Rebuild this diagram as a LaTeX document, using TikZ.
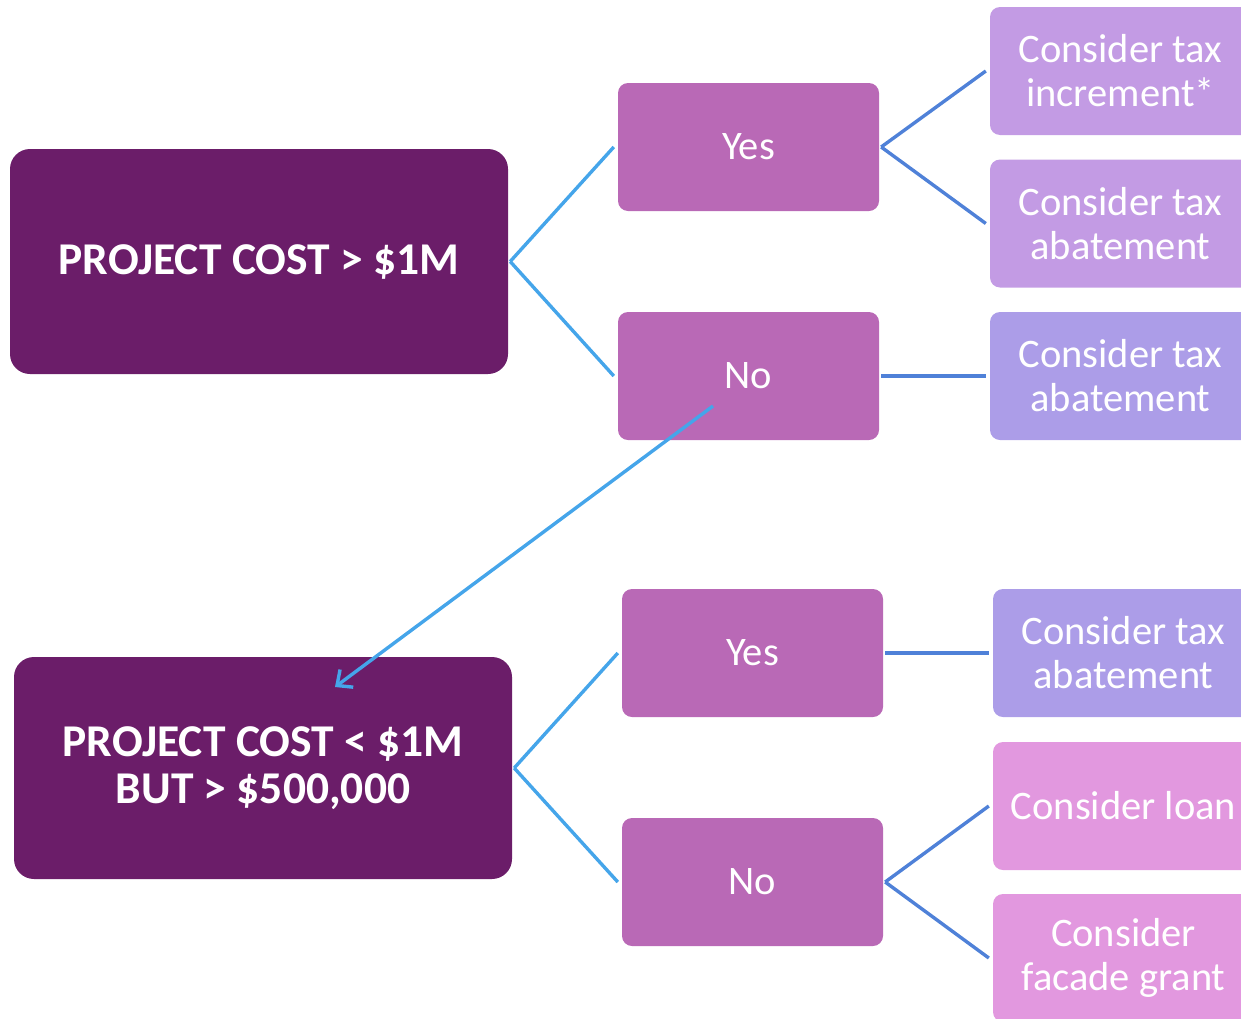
\documentclass[tikz,border=0pt]{standalone}
\usepackage{fontspec}
\setmainfont{Carlito}
\usetikzlibrary{arrows.meta,calc}
\definecolor{darkp}{HTML}{6B1D69}
\definecolor{midp}{HTML}{B969B6}
\definecolor{lilac}{HTML}{C39BE4}
\definecolor{lavb}{HTML}{AC9DE8}
\definecolor{pinkp}{HTML}{E298DF}
\definecolor{lblue}{HTML}{45A5EA}
\definecolor{dblue}{HTML}{4F81D8}
\tikzset{
  bigbox/.style={fill=darkp, rounded corners=20pt, minimum width=498pt, minimum height=225pt, inner sep=0pt, text=white, align=center, font=\fontsize{45.5}{47}\selectfont\bfseries},
  ynbox/.style={fill=midp, rounded corners=10pt, minimum width=261pt, minimum height=128pt, inner sep=0pt, text=white, align=center, font=\fontsize{40.5}{44}\selectfont},
  resbox/.style={rounded corners=10pt, minimum width=261pt, minimum height=128pt, inner sep=0pt, text=white, align=center, font=\fontsize{40.5}{44}\selectfont},
  lconn/.style={draw=lblue, line width=3.4pt},
  dconn/.style={draw=dblue, line width=3.4pt},
}
\begin{document}
\begin{tikzpicture}[x=1pt,y=-1pt]
\useasboundingbox (0,0) rectangle (1241,1018);
\clip (0,0) rectangle (1241,1018);
% nodes
\node[bigbox] (A) at (259,261.5) {PROJECT COST > \$1M};
\node[ynbox] (Y1) at (748.5,147) {Yes};
\node[ynbox] (N1) at (748.5,376) {No};
\node[resbox, fill=lilac] (R1) at (1120.5,71) {Consider tax\\increment*};
\node[resbox, fill=lilac] (R2) at (1120.5,223.5) {Consider tax\\abatement};
\node[resbox, fill=lavb] (R3) at (1120.5,376) {Consider tax\\abatement};
\node[bigbox, minimum height=222pt] (B) at (263,768) {PROJECT COST < \$1M\\BUT > \$500,000};
\node[ynbox] (Y2) at (752.5,653) {Yes};
\node[ynbox] (N2) at (752.5,882) {No};
\node[resbox, fill=lavb] (R4) at (1123.5,653) {Consider tax\\abatement};
\node[resbox, fill=pinkp] (R5) at (1123.5,806) {Consider loan};
\node[resbox, fill=pinkp] (R6) at (1123.5,958) {Consider\\facade grant};
% connectors
\draw[lconn] ([xshift=2pt]A.east) -- ([xshift=-4pt]Y1.west);
\draw[lconn] ([xshift=2pt]A.east) -- ([xshift=-4pt]N1.west);
\draw[dconn] ([xshift=2pt]Y1.east) -- ([xshift=-4pt]R1.west);
\draw[dconn] ([xshift=2pt]Y1.east) -- ([xshift=-4pt]R2.west);
\draw[dconn] ([xshift=2pt]N1.east) -- ([xshift=-4pt]R3.west);
\draw[lconn] ([xshift=2pt]B.east) -- ([xshift=-4pt]Y2.west);
\draw[lconn] ([xshift=2pt]B.east) -- ([xshift=-4pt]N2.west);
\draw[dconn] ([xshift=2pt]Y2.east) -- ([xshift=-4pt]R4.west);
\draw[dconn] ([xshift=2pt]N2.east) -- ([xshift=-4pt]R5.west);
\draw[dconn] ([xshift=2pt]N2.east) -- ([xshift=-4pt]R6.west);
\coordinate (aS) at ($(N1.center)+(-35.5,30)$);
\coordinate (aE) at ($(B.center)+(72,-81)$);
\draw[lconn, -{Straight Barb[length=12pt,width=22pt]}] (aS) -- (aE);
\end{tikzpicture}
\end{document}
